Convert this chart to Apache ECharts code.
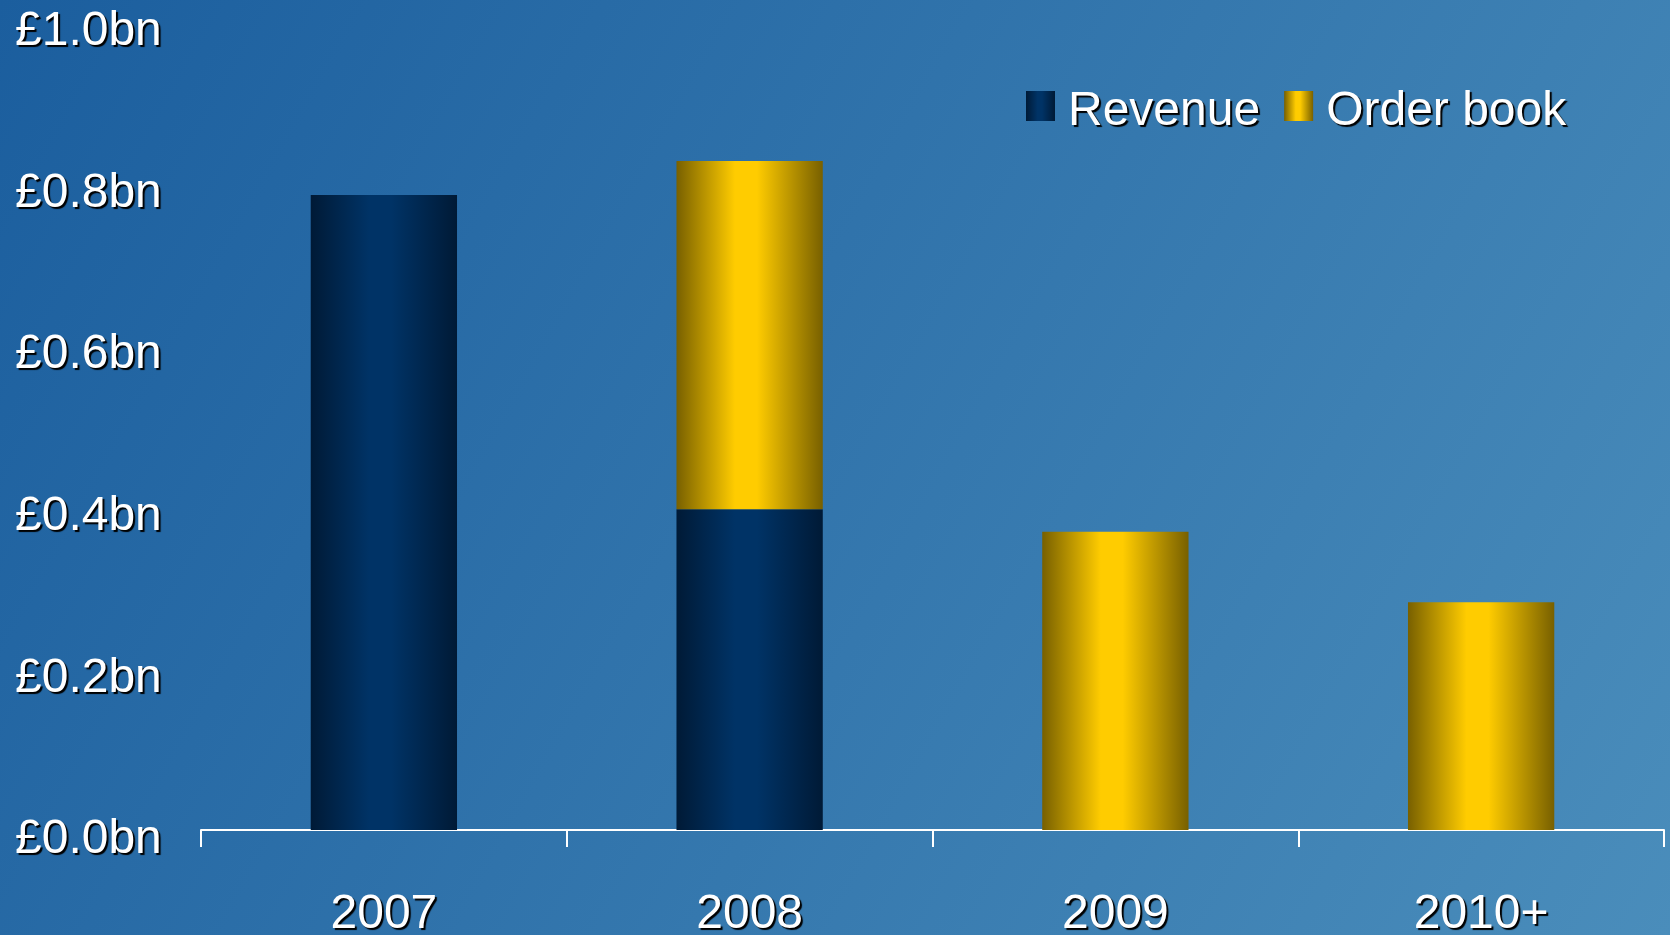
<!DOCTYPE html>
<html>
<head>
<meta charset="utf-8">
<style>
html, body { margin: 0; padding: 0; }
#main { width: 1670px; height: 935px; }
</style>
<script src="https://cdn.jsdelivr.net/npm/echarts@6/dist/echarts.min.js"></script>
</head>
<body>
<div id="main"></div>
<script>
var years = ['2007', '2008', '2009', '2010+'];
var revenue = [0.786, 0.397, '-', '-'];
var orderBook = ['-', 0.431, 0.369, 0.282];

var shadowText = {
    color: '#ffffff',
    fontFamily: 'Liberation Sans, Arial, sans-serif',
    fontSize: 48,
    textShadowColor: '#000000',
    textShadowBlur: 1,
    textShadowOffsetX: 2,
    textShadowOffsetY: 2
};

function barGrad(edge, mid) {
    return new echarts.graphic.LinearGradient(0, 0, 1, 0, [
        {offset: 0, color: edge},
        {offset: 0.4, color: mid},
        {offset: 0.55, color: mid},
        {offset: 1, color: edge}
    ]);
}

var myChart = echarts.init(document.getElementById('main'));
var option = {
    backgroundColor: new echarts.graphic.LinearGradient(0, 0, 1, 1, [
        {offset: 0, color: '#1b5e9e'},
        {offset: 1, color: '#4a8dbb'}
    ]),
    animation: false,
    grid: {
        left: 201,
        right: 6,
        top: 22,
        bottom: 105,
        containLabel: false,
        outerBoundsMode: 'none'
    },
    legend: {
        left: 1021,
        top: 83,
        itemWidth: 29,
        itemHeight: 30,
        itemGap: 24,
        selectedMode: false,
        data: [{name: 'Revenue', icon: 'rect'}, {name: 'Order book', icon: 'rect'}],
        formatter: '{t|{name}}',
        textStyle: Object.assign({}, shadowText, {
            padding: [0, 0, 0, 8],
            rich: {
                t: Object.assign({}, shadowText, {padding: [12, 0, 0, 0]})
            }
        })
    },
    xAxis: {
        type: 'category',
        data: years,
        axisLine: {show: true, lineStyle: {color: '#ffffff', width: 2}},
        axisTick: {show: true, length: 17, lineStyle: {color: '#ffffff', width: 2}},
        axisLabel: Object.assign({}, shadowText, {margin: 61})
    },
    yAxis: {
        type: 'value',
        min: 0,
        max: 1,
        interval: 0.2,
        axisLine: {show: false},
        axisTick: {show: false},
        splitLine: {show: false},
        axisLabel: Object.assign({}, shadowText, {
            align: 'left',
            verticalAlign: 'top',
            lineHeight: 20,
            margin: 186,
            formatter: function (v) { return '£' + v.toFixed(1) + 'bn'; }
        })
    },
    series: [
        {
            name: 'Revenue',
            type: 'bar',
            stack: 'total',
            barWidth: '40%',
            data: revenue,
            itemStyle: {color: barGrad('#001a36', '#003366')}
        },
        {
            name: 'Order book',
            type: 'bar',
            stack: 'total',
            barWidth: '40%',
            data: orderBook,
            itemStyle: {color: barGrad('#786000', '#ffcc00')}
        }
    ]
};
myChart.setOption(option);
</script>
</body>
</html>
